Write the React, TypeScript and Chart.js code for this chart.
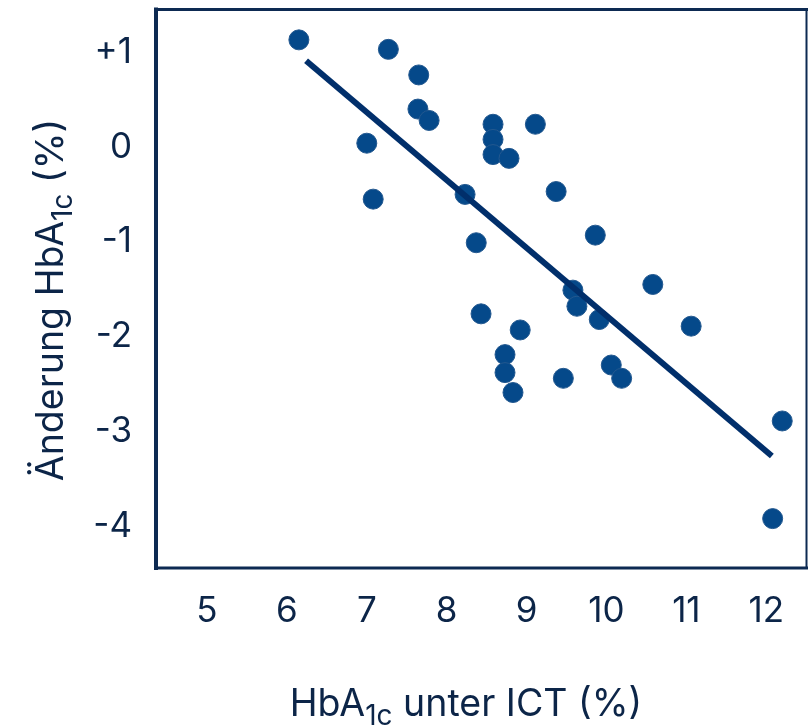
import React, { useEffect, useRef } from "react";
import { Chart, registerables } from "chart.js";

Chart.register(...registerables);

const xValues = [6.15, 7.27, 7.65, 7.64, 7.78, 7.0, 7.08, 8.58, 8.58, 8.58, 8.78, 9.11, 8.23, 9.37, 8.37, 9.86, 8.43, 8.92, 8.73, 8.73, 8.83, 9.58, 9.63, 9.91, 9.46, 10.06, 10.19, 10.58, 11.06, 12.2, 12.08];
const yValues = [1.13, 1.03, 0.76, 0.4, 0.28, 0.04, -0.55, 0.24, 0.08, -0.08, -0.12, 0.24, -0.5, -0.47, -1.01, -0.93, -1.76, -1.93, -2.19, -2.38, -2.59, -1.51, -1.68, -1.82, -2.44, -2.3, -2.44, -1.45, -1.89, -2.89, -3.92];
const trendX = [6.24, 12.07];
const trendY = [0.91, -3.26];
const xTicks = [5, 6, 7, 8, 9, 10, 11, 12];
const yTicks = [-4, -3, -2, -1, 0, 1];
const yTickLabels = ["-4", "-3", "-2", "-1", "0", "+1"];

const NAVY = "#0c2548";
const FONT = "Inter";

const titlePlugin = {
  id: "customTitles",
  beforeDatasetsDraw(chart: any) {
    const { ctx, chartArea } = chart;
    ctx.save();
    ctx.strokeStyle = "#0d2a52";
    ctx.lineCap = "square";
    ctx.lineWidth = 3;
    ctx.beginPath();
    ctx.moveTo(chartArea.left, chartArea.top - 0.5);
    ctx.lineTo(chartArea.right, chartArea.top - 0.5);
    ctx.stroke();
    ctx.beginPath();
    ctx.moveTo(chartArea.left, chartArea.bottom);
    ctx.lineTo(chartArea.right, chartArea.bottom);
    ctx.stroke();
    ctx.lineWidth = 4;
    ctx.beginPath();
    ctx.moveTo(chartArea.left - 1, chartArea.top - 0.5);
    ctx.lineTo(chartArea.left - 1, chartArea.bottom);
    ctx.stroke();
    ctx.lineWidth = 2;
    ctx.beginPath();
    ctx.moveTo(chartArea.right - 0.5, chartArea.top - 0.5);
    ctx.lineTo(chartArea.right - 0.5, chartArea.bottom);
    ctx.stroke();
    ctx.restore();
  },
  afterDraw(chart: any) {
    const { ctx } = chart;
    const main = `37.5px ${FONT}`;
    const sub = `28px ${FONT}`;
    const parts = (rest: string) => [
      { t: "HbA", f: main, dy: 0 },
      { t: "1c", f: sub, dy: 9 },
      { t: rest, f: main, dy: 0 },
    ];
    const drawRun = (items: any[], cx: number, baseY: number) => {
      let total = 0;
      items.forEach((p) => {
        ctx.font = p.f;
        p.w = ctx.measureText(p.t).width;
        total += p.w;
      });
      let x = cx - total / 2;
      items.forEach((p) => {
        ctx.font = p.f;
        ctx.fillText(p.t, x, baseY + p.dy);
        x += p.w;
      });
    };
    ctx.save();
    ctx.fillStyle = NAVY;
    ctx.textBaseline = "alphabetic";
    ctx.textAlign = "left";
    drawRun(parts(" unter ICT (%)"), 466, 716);
    ctx.translate(63, 300);
    ctx.rotate(-Math.PI / 2);
    drawRun([{ t: "Änderung ", f: main, dy: 0 }, ...parts(" (%)")], 0, 0);
    ctx.restore();
  },
};

const zeroPad = (s: any) => {
  s.paddingTop = 0;
  s.paddingBottom = 0;
  s.paddingLeft = 0;
  s.paddingRight = 0;
};

export default function App() {
  const ref = useRef<HTMLCanvasElement>(null);
  useEffect(() => {
    const scatterData = xValues.map((x, i) => ({ x, y: yValues[i] }));
    const lineData = trendX.map((x, i) => ({ x, y: trendY[i] }));
    const chart = new Chart(ref.current!, {
      type: "scatter",
      data: {
        datasets: [
          {
            type: "line",
            data: lineData,
            borderColor: "#012f6b",
            borderWidth: 6,
            pointRadius: 0,
            borderCapStyle: "butt",
            fill: false,
          } as any,
          {
            data: scatterData,
            backgroundColor: "#05498a",
            borderColor: "#23588f",
            borderWidth: 1,
            pointRadius: 10,
            pointHoverRadius: 10,
          },
        ],
      },
      options: {
        responsive: false,
        animation: false,
        events: [],
        layout: { autoPadding: false, padding: { top: 10, right: 1, left: 0, bottom: 0 } },
        plugins: { legend: { display: false }, tooltip: { enabled: false } },
        scales: {
          x: {
            type: "linear",
            min: 4.374,
            max: 12.51,
            grid: { display: false, drawTicks: false },
            border: { display: false },
            afterBuildTicks: (s: any) => {
              s.ticks = xTicks.map((v) => ({ value: v }));
            },
            afterFit: (s: any) => {
              s.height = 727 - 568;
              zeroPad(s);
            },
            ticks: {
              padding: 22,
              color: NAVY,
              font: { family: FONT, size: 35 },
              maxRotation: 0,
              autoSkip: false,
            },
          },
          y: {
            type: "linear",
            min: -4.441,
            max: 1.445,
            grid: { display: false, drawTicks: false },
            border: { display: false },
            afterBuildTicks: (s: any) => {
              s.ticks = yTicks.map((v) => ({ value: v }));
            },
            afterFit: (s: any) => {
              s.width = 157;
              zeroPad(s);
            },
            ticks: {
              padding: 25,
              color: NAVY,
              font: { family: FONT, size: 35 },
              autoSkip: false,
              callback: (v: any) => {
                const i = yTicks.indexOf(Number(v));
                return i >= 0 ? yTickLabels[i] : "";
              },
            },
          },
        },
      },
      plugins: [titlePlugin],
    });
    return () => chart.destroy();
  }, []);
  return (
    <div style={{ position: "fixed", left: 0, top: 0, width: 808, height: 727, background: "#fff" }}>
      <canvas ref={ref} width={808} height={727} style={{ width: 808, height: 727 }} />
    </div>
  );
}
